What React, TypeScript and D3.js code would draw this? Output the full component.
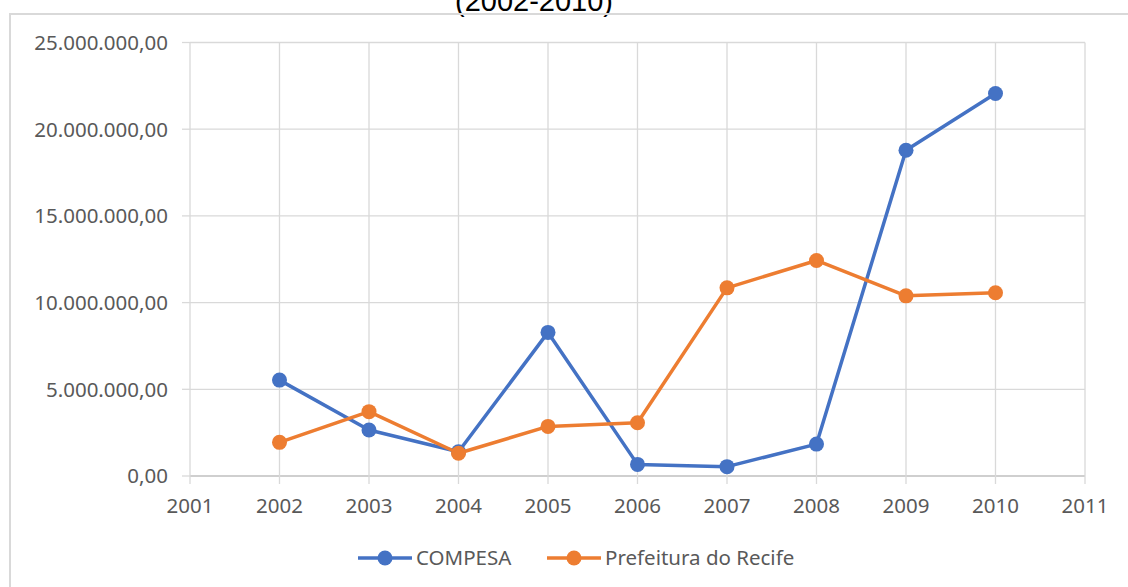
import React from "react";
import * as d3 from "d3";

const years = [2002, 2003, 2004, 2005, 2006, 2007, 2008, 2009, 2010];
const compesa = [5530000, 2650000, 1400000, 8280000, 670000, 540000, 1840000, 18790000, 22060000];
const prefeitura = [1940000, 3710000, 1310000, 2860000, 3070000, 10850000, 12430000, 10390000, 10570000];
const xTicks = [2001, 2002, 2003, 2004, 2005, 2006, 2007, 2008, 2009, 2010, 2011];
const yTicks = [0, 5000000, 10000000, 15000000, 20000000, 25000000];

const series = [
  { name: "COMPESA", values: compesa, color: "#4472C4" },
  { name: "Prefeitura do Recife", values: prefeitura, color: "#ED7D31" },
];

const width = 1128;
const height = 587;
const font = "'Noto Sans', 'Open Sans', sans-serif";
const fs = 20.5;

// formato brasileiro: 25.000.000,00
const fmt = (v: number) =>
  d3.format(",.2f")(v).replace(/,/g, "#").replace(/\./g, ",").replace(/#/g, ".");

export default function App() {
  const x = d3.scaleLinear().domain([2001, 2011]).range([190, 1085]);
  const y = d3.scaleLinear().domain([0, 25000000]).range([476, 42.5]);

  const line = d3
    .line<number>()
    .x((_, i) => x(years[i]))
    .y((d) => y(d));

  return (
    <svg
      width={width}
      height={height}
      style={{ position: "absolute", left: 0, top: 0, background: "white" }}
    >
      <text
        x={534}
        y={11}
        textAnchor="middle"
        fontFamily="'Liberation Sans', Arial, sans-serif"
        fontSize={29}
        fill="#000"
      >
        (2002-2010)
      </text>
      <rect x={10} y={14} width={1140} height={600} fill="none" stroke="#d9d9d9" strokeWidth={2} />

      {/* grade */}
      {yTicks.map((t) => (
        <line
          key={"h" + t}
          x1={x(2001)}
          x2={x(2011)}
          y1={y(t)}
          y2={y(t)}
          stroke={t === 0 ? "#bfbfbf" : "#d9d9d9"}
          strokeWidth={1.3}
        />
      ))}
      {xTicks.map((t) => (
        <line
          key={"v" + t}
          x1={x(t)}
          x2={x(t)}
          y1={y(25000000)}
          y2={y(0) + 8}
          stroke="#d9d9d9"
          strokeWidth={1.3}
        />
      ))}
      {yTicks.map((t) => (
        <line key={"yt" + t} x1={x(2001) - 8} x2={x(2001)} y1={y(t)} y2={y(t)} stroke="#d9d9d9" strokeWidth={1.3} />
      ))}

      {/* rótulos */}
      {yTicks.map((t) => (
        <text
          key={"yl" + t}
          x={168}
          y={y(t)}
          dy="0.36em"
          textAnchor="end"
          fontFamily={font}
          fontSize={fs}
          fill="#595959"
        >
          {fmt(t)}
        </text>
      ))}
      {xTicks.map((t) => (
        <text
          key={"xl" + t}
          x={x(t)}
          y={513}
          textAnchor="middle"
          fontFamily={font}
          fontSize={fs}
          fill="#595959"
        >
          {t}
        </text>
      ))}

      {/* séries */}
      {series.map((s) => (
        <g key={s.name}>
          <path d={line(s.values) || ""} fill="none" stroke={s.color} strokeWidth={3.5} strokeLinejoin="round" />
          {s.values.map((v, i) => (
            <circle key={i} cx={x(years[i])} cy={y(v)} r={7.5} fill={s.color} />
          ))}
        </g>
      ))}

      {/* legenda */}
      {series.map((s, i) => {
        const lx = i === 0 ? 358 : 547;
        return (
          <g key={"lg" + s.name}>
            <line x1={lx} x2={lx + 54} y1={558} y2={558} stroke={s.color} strokeWidth={3.5} />
            <circle cx={lx + 27} cy={558} r={7.5} fill={s.color} />
            <text x={lx + 58} y={565} fontFamily={font} fontSize={fs} fill="#595959">
              {s.name}
            </text>
          </g>
        );
      })}
    </svg>
  );
}
